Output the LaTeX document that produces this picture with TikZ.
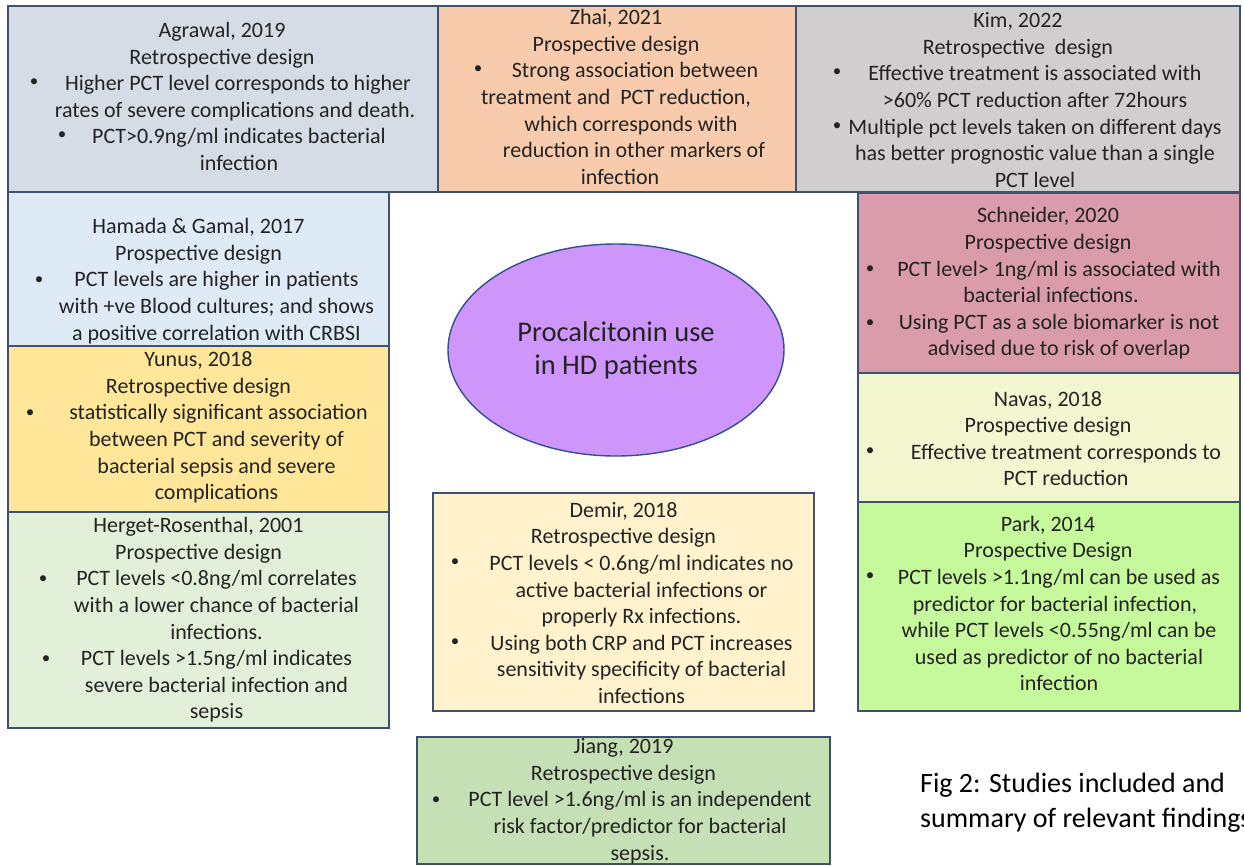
\documentclass[tikz,border=0pt]{standalone}
\usepackage{fontspec}
\setmainfont{Carlito}
\usetikzlibrary{shapes.geometric}
\definecolor{bordc}{RGB}{62,82,112}
\definecolor{txtc}{RGB}{35,35,35}
\definecolor{cAgr}{RGB}{214,220,229}
\definecolor{cZha}{RGB}{248,203,173}
\definecolor{cKim}{RGB}{208,206,206}
\definecolor{cHam}{RGB}{222,235,247}
\definecolor{cYun}{RGB}{255,230,153}
\definecolor{cHer}{RGB}{226,240,217}
\definecolor{cSch}{RGB}{218,155,170}
\definecolor{cNav}{RGB}{243,247,208}
\definecolor{cPar}{RGB}{197,249,156}
\definecolor{cDem}{RGB}{255,242,204}
\definecolor{cJia}{RGB}{197,224,180}
\definecolor{cPur}{RGB}{206,150,250}
\definecolor{cEll}{RGB}{50,80,140}
\begin{document}
\begin{tikzpicture}[x=1pt,y=-1pt,
  box/.style={draw=bordc, line width=1.4pt, inner sep=0pt, outer sep=0pt},
  txt/.style={align=center, inner sep=0pt, text=txtc, font=\fontsize{22}{26.6}\selectfont},
  bul/.style={inner sep=0pt, text=txtc, font=\fontsize{17}{20}\selectfont}]
\useasboundingbox (0,0) rectangle (1244,865);
\fill[white] (0,0) rectangle (1244,865);
% boxes
\node[box, fill=cAgr, minimum width=430pt, minimum height=186pt] (agr) at (223,99) {};
\node[box, fill=cZha, minimum width=358pt, minimum height=186pt] (zha) at (617,99) {};
\node[box, fill=cKim, minimum width=444pt, minimum height=186pt] (kim) at (1018,99) {};
\node[box, fill=cHam, minimum width=381pt, minimum height=154pt] (ham) at (198.5,269) {};
\node[box, fill=cYun, minimum width=381pt, minimum height=166pt] (yun) at (198.5,429) {};
\node[box, fill=cHer, minimum width=381pt, minimum height=216pt] (her) at (198.5,620) {};
\node[box, fill=cSch, minimum width=382pt, minimum height=180pt] (sch) at (1049,283) {};
\node[box, fill=cNav, minimum width=382pt, minimum height=129pt] (nav) at (1049,437.5) {};
\node[box, fill=cPar, minimum width=382pt, minimum height=209pt] (par) at (1049,606.5) {};
\node[box, fill=cDem, minimum width=381pt, minimum height=218pt] (dem) at (623.5,602) {};
\node[box, fill=cJia, minimum width=413pt, minimum height=127pt] (jia) at (623.5,800.5) {};
% ellipse
\node[ellipse, draw=cEll, line width=1.4pt, fill=cPur, minimum width=336pt, minimum height=212pt, inner sep=0pt, align=center, text=txtc, font=\fontsize{28.5}{33}\selectfont] (pct) at (616,350) {Procalcitonin use\\in HD patients};
% texts
\node[txt] (agrT) at (222,96.5) {Agrawal, 2019\\Retrospective design\\\hspace*{32pt}Higher PCT level corresponds to higher\\\hspace*{26pt}rates of severe complications and death.\\\hspace*{34pt}PCT>0.9ng/ml indicates bacterial\\\hspace*{34pt}infection};
\node[txt] (zhaT) at (616,97) {Zhai, 2021\\Prospective design\\\hspace*{38pt}Strong association between\\treatment and\ \ PCT reduction,\\\hspace*{30pt}which corresponds with\\\hspace*{36pt}reduction in other markers of\\\hspace*{8pt}infection};
\node[txt] (kimT) at (1018,100) {Kim, 2022\\Retrospective\ \ design\\\hspace*{34pt}Effective treatment is associated with\\\hspace*{34pt}>60\% PCT reduction after 72hours\\\hspace*{34pt}Multiple pct levels taken on different days\\\hspace*{34pt}has better prognostic value than a single\\\hspace*{34pt}PCT level};
\node[txt] (hamT) at (198.5,281) {Hamada \& Gamal, 2017\\Prospective design\\\hspace*{36pt}PCT levels are higher in patients\\\hspace*{36pt}with +ve Blood cultures; and shows\\\hspace*{36pt}a positive correlation with CRBSI};
\node[txt] (yunT) at (198.5,427.5) {Yunus, 2018\\Retrospective design\\\hspace*{40pt}statistically significant association\\\hspace*{36pt}between PCT and severity of\\\hspace*{36pt}bacterial sepsis and severe\\\hspace*{36pt}complications};
\node[txt] (herT) at (198.5,620) {Herget-Rosenthal, 2001\\Prospective design\\\hspace*{36pt}PCT levels <0.8ng/ml correlates\\\hspace*{36pt}with a lower chance of bacterial\\\hspace*{36pt}infections.\\\hspace*{36pt}PCT levels >1.5ng/ml indicates\\\hspace*{36pt}severe bacterial infection and\\\hspace*{36pt}sepsis};
\node[txt] (schT) at (1048,283.5) {Schneider, 2020\\Prospective design\\\hspace*{22pt}PCT level> 1ng/ml is associated with\\\hspace*{6pt}bacterial infections.\\\hspace*{22pt}Using PCT as a sole biomarker is not\\\hspace*{22pt}advised due to risk of overlap};
\node[txt] (navT) at (1048,438.5) {Navas, 2018\\Prospective design\\\hspace*{36pt}Effective treatment corresponds to\\\hspace*{36pt}PCT reduction};
\node[txt] (parT) at (1048,603.5) {Park, 2014\\Prospective Design\\\hspace*{22pt}PCT levels >1.1ng/ml can be used as\\\hspace*{14pt}predictor for bacterial infection,\\\hspace*{22pt}while PCT levels <0.55ng/ml can be\\\hspace*{22pt}used as predictor of no bacterial\\\hspace*{22pt}infection};
\node[txt] (demT) at (623.5,603) {Demir, 2018\\Retrospective design\\\hspace*{36pt}PCT levels < 0.6ng/ml indicates no\\\hspace*{36pt}active bacterial infections or\\\hspace*{36pt}properly Rx infections.\\\hspace*{36pt}Using both CRP and PCT increases\\\hspace*{36pt}sensitivity specificity of bacterial\\\hspace*{36pt}infections};
\node[txt] (jiaT) at (623.5,801) {Jiang, 2019\\Retrospective design\\\hspace*{33pt}PCT level >1.6ng/ml is an independent\\\hspace*{33pt}risk factor/predictor for bacterial\\\hspace*{33pt}sepsis.};
% bullets
\node[bul] (agrB1) at (34,83) {\textbullet};
\node[bul] (agrB2) at (62,136) {\textbullet};
\node[bul] (zhaB1) at (478,70) {\textbullet};
\node[bul] (kimB1) at (837,73) {\textbullet};
\node[bul] (kimB2) at (837,127) {\textbullet};
\node[bul] (hamB1) at (39,281) {\textbullet};
\node[bul] (yunB1) at (30,414) {\textbullet};
\node[bul] (herB1) at (43,580) {\textbullet};
\node[bul] (herB2) at (46,660) {\textbullet};
\node[bul] (schB1) at (870,270) {\textbullet};
\node[bul] (schB2) at (870,324) {\textbullet};
\node[bul] (navB1) at (870,452) {\textbullet};
\node[bul] (parB1) at (870,577) {\textbullet};
\node[bul] (demB1) at (455,563) {\textbullet};
\node[bul] (demB2) at (455,643) {\textbullet};
\node[bul] (jiaB1) at (436,801) {\textbullet};
% caption
\node[anchor=west, align=left, inner sep=0pt, text=black, font=\fontsize{28}{35}\selectfont] (cap) at (920,803) {Fig 2: Studies included and\\summary of relevant findings};
\end{tikzpicture}
\end{document}
